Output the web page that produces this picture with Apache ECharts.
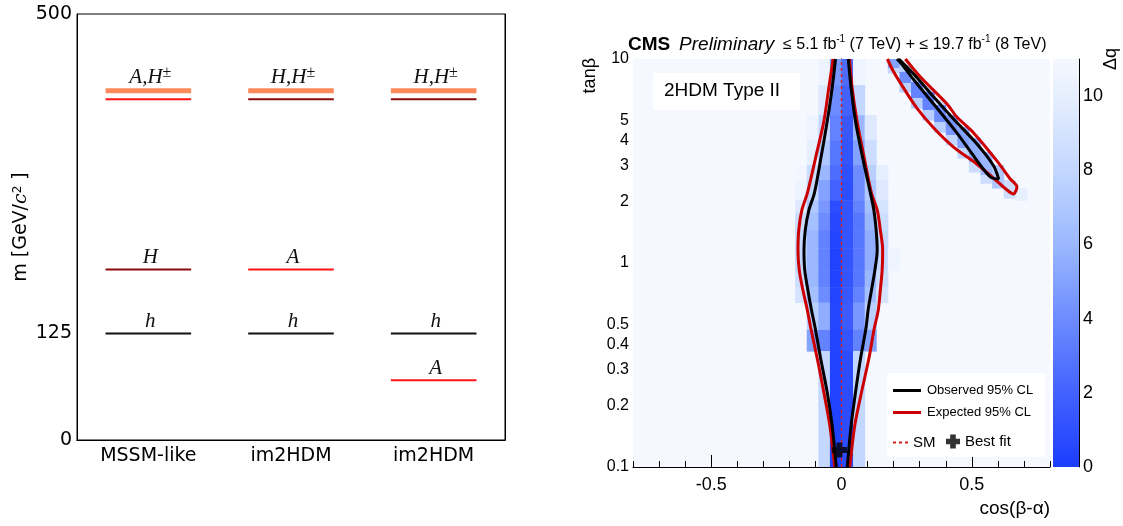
<!DOCTYPE html>
<html>
<head>
<meta charset="utf-8">
<script src="https://cdn.jsdelivr.net/npm/echarts@6/dist/echarts.min.js"></script>
<style>
  html, body { margin: 0; padding: 0; background: #fff; }
  #chart { width: 1123px; height: 526px; }
</style>
</head>
<body>
<div id="chart"></div>
<script>
// ---- left panel: mass spectra ----
var massCategories = ['MSSM-like', 'im2HDM', 'im2HDM'];
var massTicks = [0, 125, 500];
var levelColumn   = [0, 0, 0, 0, 1, 1, 1, 1, 2, 2, 2, 2];
var levelMass     = [410, 400, 200, 125, 410, 400, 200, 125, 410, 400, 125, 70];
var levelParticle = ['Hpm', 'A', 'H', 'h', 'Hpm', 'H', 'A', 'h', 'Hpm', 'H', 'h', 'A'];
var levelLabel    = ['A,H±', '', 'H', 'h', 'H,H±', '', 'A', 'h', 'H,H±', '', 'h', 'A'];

// ---- right panel: 2HDM type II scan ----
var cosTickLabels = [-0.5, 0, 0.5];
var cosMinorTicks = [-0.8, -0.7, -0.6, -0.5, -0.4, -0.3, -0.2, -0.1, 0, 0.1, 0.2, 0.3, 0.4, 0.5, 0.6, 0.7, 0.8];
var tanTickLabels = [0.1, 0.2, 0.3, 0.4, 0.5, 1, 2, 3, 4, 5, 10];
var tanMinorTicks = [0.2, 0.3, 0.4, 0.5, 0.6, 0.7, 0.8, 0.9, 2, 3, 4, 5, 6, 7, 8, 9];
var tanMajorTicks = [0.1, 1, 10];
var zTicks = [0, 2, 4, 6, 8, 10];

// scan bins in cos(beta-alpha)
var scanBinEdgesX = [-0.8, -0.7556, -0.7111, -0.6667, -0.6222, -0.5778, -0.5333, -0.4889, -0.4444,
  -0.4, -0.3556, -0.3111, -0.2667, -0.2222, -0.1778, -0.1333, -0.0889, -0.0444, 0,
  0.0444, 0.0889, 0.1333, 0.1778, 0.2222, 0.2667, 0.3111, 0.3556, 0.4, 0.4444,
  0.4889, 0.5333, 0.5778, 0.6222, 0.6667, 0.7111, 0.7556, 0.8];

// central region: rows of tan(beta) and delta q per bin (bins 14..22), 11 = off scale
var coreFirstBin = 14;
var coreRowEdges = [10, 7.45, 5.31, 4.0, 3.02, 2.55, 2.03, 1.76, 1.45, 1.18, 0.92, 0.76, 0.64, 0.47, 0.37, 0.1];
var coreValues = [
  [11, 11, 10.5, 4.5, 2.5, 10.5, 11, 11, 11],
  [11, 11, 9.5, 4, 2, 8, 11, 11, 11],
  [11, 10.5, 8, 3.5, 1.5, 6, 9.5, 11, 11],
  [11, 10, 7, 3, 1.2, 5, 8.5, 11, 11],
  [10.8, 8.5, 6, 2.5, 1, 4, 7.5, 10, 11],
  [10.5, 8, 5, 2, 0.9, 4, 7, 9.5, 11],
  [9.5, 7, 4.5, 0.8, 1.2, 3.5, 6.5, 9, 11],
  [8.5, 6.5, 4, 0.6, 1.2, 3, 6, 8.5, 11],
  [8, 6, 3.5, 0.4, 1.2, 3, 5.5, 8, 11],
  [8, 6, 3.5, 0.3, 1.2, 3, 5.5, 8, 10.5],
  [8.5, 6, 3.5, 0.3, 1.2, 3, 6, 8.5, 11],
  [9, 6.5, 4, 0.4, 1.4, 3.5, 6.5, 9, 11],
  [11, 7.5, 5.5, 0.5, 1.6, 4.5, 7.5, 11, 11],
  [11, 5, 3.5, 0.4, 1.2, 3.5, 5, 11, 11],
  [11, 11, 8, 0.3, 0.8, 8, 11, 11, 11]
];
// upper-right arm: [bin, tanLow, tanHigh, delta q]
var armCells = [
  [22, 9.03, 10, 5], [22, 8.54, 9.03, 8],
  [23, 8.64, 9.35, 7.5], [23, 7.63, 8.64, 4], [23, 6.89, 7.63, 7.5],
  [24, 7.71, 8.16, 8], [24, 6.44, 7.71, 3.5], [24, 5.75, 6.44, 7.5],
  [25, 6.89, 7.21, 8.5], [25, 5.62, 6.89, 3.5], [25, 5.02, 5.62, 7.5],
  [26, 5.95, 6.30, 8.5], [26, 4.91, 5.95, 4], [26, 4.38, 4.91, 7.5],
  [27, 4.24, 5.31, 4.5], [27, 3.79, 4.24, 8],
  [28, 3.66, 4.64, 5], [28, 3.27, 3.66, 8],
  [29, 3.12, 4.10, 5.5], [29, 2.79, 3.12, 8.5],
  [30, 2.70, 3.50, 6], [30, 2.46, 2.70, 8.5],
  [31, 2.33, 3.02, 7],
  [32, 2.08, 2.55, 8.5],
  [33, 2.03, 2.33, 10]
];

// 95% CL contours [cos(beta-alpha), tan(beta)]
var obsCoreLeft = [[-0.023, 10], [-0.036, 7.18], [-0.055, 4.92], [-0.077, 3.38], [-0.104, 2.2], [-0.125, 1.82],
  [-0.139, 1.45], [-0.144, 1.156], [-0.141, 0.922], [-0.129, 0.736], [-0.115, 0.587], [-0.101, 0.48],
  [-0.08, 0.34], [-0.055, 0.233], [-0.036, 0.16], [-0.02, 0.1]];
var obsCoreRight = [[0.026, 10], [0.037, 7.18], [0.054, 4.92], [0.079, 3.38], [0.111, 2.2], [0.124, 1.82],
  [0.133, 1.45], [0.137, 1.156], [0.128, 0.922], [0.115, 0.736], [0.102, 0.587], [0.094, 0.48],
  [0.073, 0.34], [0.054, 0.233], [0.037, 0.16], [0.022, 0.1]];
var expCoreLeft = [[-0.032, 10], [-0.049, 7.18], [-0.068, 4.92], [-0.097, 3.38], [-0.131, 2.2], [-0.152, 1.82],
  [-0.164, 1.45], [-0.167, 1.156], [-0.162, 0.922], [-0.148, 0.736], [-0.131, 0.587], [-0.118, 0.48],
  [-0.093, 0.34], [-0.068, 0.233], [-0.045, 0.16], [-0.026, 0.1]];
var expCoreRight = [[0.031, 10], [0.041, 7.18], [0.06, 4.92], [0.085, 3.38], [0.115, 2.2], [0.137, 1.82],
  [0.149, 1.45], [0.158, 1.156], [0.156, 0.922], [0.149, 0.736], [0.141, 0.587], [0.126, 0.48],
  [0.105, 0.34], [0.077, 0.233], [0.051, 0.16], [0.032, 0.1]];
var obsArm = [[0.22, 10], [0.277, 8.44], [0.354, 6.51], [0.43, 5.08], [0.52, 3.83], [0.584, 2.99], [0.603, 2.58],
  [0.571, 2.64], [0.513, 3.27], [0.437, 4.44], [0.36, 5.88], [0.284, 7.71], [0.23, 9.46], [0.213, 10]];
var expArm = [[0.176, 10], [0.2, 8.66], [0.239, 7.18], [0.29, 5.73], [0.354, 4.59], [0.43, 3.70], [0.52, 3.05],
  [0.584, 2.60], [0.635, 2.28], [0.66, 2.18], [0.673, 2.36], [0.648, 2.58], [0.597, 3.16], [0.507, 4.34],
  [0.443, 5.19], [0.405, 6.02], [0.303, 8.16], [0.245, 10]];
var smLine = [[0, 0.1], [0, 10]];
var bestFit = [[-0.008, 0.121]];

var palette = ['#1b3dff', '#2f50ff', '#4362ff', '#5877ff', '#6d8cff', '#84a2ff',
  '#9bb8ff', '#afc8ff', '#c3d7ff', '#d5e3ff', '#e6effe', '#f6f8ff'];

// build tables for the library
var levels = levelColumn.map(function (c, i) { return [c, levelMass[i]]; });
var heatCells = [];
coreValues.forEach(function (row, r) {
  row.forEach(function (v, j) {
    if (v >= 11) return;
    var bin = coreFirstBin + j;
    heatCells.push([scanBinEdgesX[bin], scanBinEdgesX[bin + 1], coreRowEdges[r + 1], coreRowEdges[r], v]);
  });
});
armCells.forEach(function (c) {
  heatCells.push([scanBinEdgesX[c[0]], scanBinEdgesX[c[0] + 1], c[1], c[2], c[3]]);
});

var particleStyle = {
  Hpm: { color: '#ff8a5c', width: 5 },
  A: { color: '#ff1414', width: 2 },
  H: { color: '#8b0a0a', width: 2 },
  h: { color: '#111111', width: 2 }
};

function mathText(s) {
  if (s.indexOf('±') >= 0) return '{m|' + s.replace('±', '') + '}{s|±}';
  return '{m|' + s + '}';
}

function renderLevel(params, api) {
  var p = api.coord([api.value(0), api.value(1)]);
  var half = api.size([1, 0])[0] * 0.3;
  var st = particleStyle[levelParticle[params.dataIndex]];
  var children = [{
    type: 'line',
    shape: { x1: p[0] - half, y1: p[1], x2: p[0] + half, y2: p[1] },
    style: { stroke: st.color, lineWidth: st.width }
  }];
  var lab = levelLabel[params.dataIndex];
  if (lab) {
    children.push({
      type: 'text',
      x: p[0] + 2,
      y: p[1] - st.width / 2 + 1,
      style: {
        text: mathText(lab),
        align: 'center',
        verticalAlign: 'bottom',
        fill: '#111',
        rich: {
          m: { fontFamily: 'Liberation Serif', fontStyle: 'italic', fontSize: 21, fill: '#111', lineHeight: 24 },
          s: { fontFamily: 'Liberation Serif', fontSize: 16, fill: '#111', verticalAlign: 'top', lineHeight: 24 }
        }
      }
    });
  }
  return { type: 'group', children: children };
}

function renderCell(params, api) {
  var p0 = api.coord([api.value(0), api.value(3)]);
  var p1 = api.coord([api.value(1), api.value(2)]);
  return {
    type: 'rect',
    shape: { x: p0[0], y: p0[1], width: p1[0] - p0[0] + 0.5, height: p1[1] - p0[1] + 0.5 },
    style: { fill: api.visual('color') }
  };
}

var sans = 'Liberation Sans';
var axisBlack = { show: true, lineStyle: { color: '#000', width: 1 } };

function contour(name, data, color) {
  return {
    name: name, type: 'line', xAxisIndex: 2, yAxisIndex: 2, data: data,
    symbol: 'none', smooth: 0.3, z: 4,
    lineStyle: { color: color, width: 3 }, itemStyle: { color: color }
  };
}

var chart = echarts.init(document.getElementById('chart'));
var option = {
  animation: false,
  backgroundColor: '#ffffff',
  textStyle: { fontFamily: sans },
  grid: [
    { left: 77, top: 14, width: 428, height: 426, show: true, borderColor: '#000', borderWidth: 1 },
    { left: 633, top: 59, width: 417, height: 408, show: true, backgroundColor: palette[11], borderWidth: 0 },
    { left: 1053, top: 59, width: 26, height: 408 }
  ],
  xAxis: [
    {
      type: 'category', gridIndex: 0, data: massCategories, position: 'bottom',
      axisLine: axisBlack,
      axisTick: { inside: true, alignWithLabel: true, length: 5, lineStyle: { color: '#000' } },
      axisLabel: { fontFamily: 'DejaVu Sans', fontSize: 19, color: '#000', margin: 7 }
    },
    {
      type: 'category', gridIndex: 0, data: massCategories, position: 'top',
      axisLine: axisBlack,
      axisTick: { inside: true, alignWithLabel: true, length: 5, lineStyle: { color: '#000' } },
      axisLabel: { show: false }
    },
    {
      type: 'value', gridIndex: 1, min: -0.8, max: 0.8, position: 'bottom',
      axisLine: axisBlack, splitLine: { show: false },
      axisTick: { inside: true, length: 6, customValues: cosMinorTicks, lineStyle: { color: '#000' } },
      axisLabel: { customValues: cosTickLabels, fontSize: 18, color: '#000', margin: 9 }
    },
    {
      type: 'value', gridIndex: 1, min: -0.8, max: 0.8, position: 'bottom',
      axisLine: { show: false }, splitLine: { show: false },
      axisTick: { inside: true, length: 12, customValues: cosTickLabels, lineStyle: { color: '#000' } },
      axisLabel: { show: false }
    },
    { type: 'category', gridIndex: 2, data: [''], show: false }
  ],
  yAxis: [
    {
      type: 'value', gridIndex: 0, min: 0, max: 500, position: 'left',
      axisLine: axisBlack, splitLine: { show: false },
      axisTick: { inside: true, length: 5, customValues: massTicks, lineStyle: { color: '#000' } },
      axisLabel: { customValues: massTicks, fontFamily: 'DejaVu Sans', fontSize: 19, color: '#000', margin: 5 },
      name: 'm [GeV/{c|c}{s|2} ]', nameLocation: 'middle', nameGap: 46,
      nameTextStyle: {
        fontFamily: 'DejaVu Sans', fontSize: 19, color: '#000',
        rich: {
          c: { fontFamily: 'DejaVu Serif', fontStyle: 'italic', fontSize: 19, color: '#000' },
          s: { fontFamily: 'DejaVu Sans', fontSize: 12, color: '#000', verticalAlign: 'top' }
        }
      }
    },
    {
      type: 'value', gridIndex: 0, min: 0, max: 500, position: 'right',
      axisLine: axisBlack, splitLine: { show: false },
      axisTick: { inside: true, length: 5, customValues: massTicks, lineStyle: { color: '#000' } },
      axisLabel: { show: false }
    },
    {
      type: 'log', logBase: 10, gridIndex: 1, min: 0.1, max: 10, position: 'left',
      axisLine: axisBlack, splitLine: { show: false },
      axisTick: { inside: true, length: 7, customValues: tanMinorTicks, lineStyle: { color: '#000' } },
      axisLabel: { customValues: tanTickLabels, fontSize: 16, color: '#000', margin: 4,
        formatter: function (v) { return String(v); } }
    },
    {
      type: 'log', logBase: 10, gridIndex: 1, min: 0.1, max: 10, position: 'left',
      axisLine: { show: false }, splitLine: { show: false },
      axisTick: { inside: true, length: 13, customValues: tanMajorTicks, lineStyle: { color: '#000' } },
      axisLabel: { show: false }
    },
    {
      type: 'value', gridIndex: 2, min: 0, max: 11, position: 'right',
      axisLine: axisBlack, splitLine: { show: false },
      axisTick: { inside: true, length: 11, customValues: zTicks, lineStyle: { color: '#000' } },
      axisLabel: { customValues: zTicks, fontSize: 18, color: '#000', margin: 4 }
    }
  ],
  visualMap: {
    type: 'continuous', show: false, min: 0, max: 11, dimension: 4, seriesIndex: 1,
    inRange: { color: palette }
  },
  legend: [
    {
      data: ['Observed 95% CL', 'Expected 95% CL'], orient: 'vertical', left: 888, top: 379,
      icon: 'rect', itemWidth: 28, itemHeight: 3, itemGap: 9,
      textStyle: { fontSize: 13, color: '#000', fontFamily: sans, padding: [0, 0, 0, 1] }
    },
    {
      data: ['SM'], left: 888, top: 430,
      icon: 'path://M0,0H3V2H0Z M6,0H9V2H6Z M12,0H15V2H12Z', itemWidth: 15, itemHeight: 2,
      textStyle: { fontSize: 15, color: '#000', fontFamily: sans }
    },
    {
      data: ['Best fit'], left: 941, top: 429, itemWidth: 14, itemHeight: 14, itemGap: 2,
      textStyle: { fontSize: 15, color: '#000', fontFamily: sans }
    }
  ],
  graphic: [
    { type: 'rect', z: 1, shape: { x: 887, y: 373, width: 158, height: 84 }, style: { fill: '#ffffff' } },
    { type: 'rect', z: 1, shape: { x: 653, y: 73, width: 147, height: 37 }, style: { fill: '#ffffff' } },
    {
      type: 'text', x: 664, y: 91, z: 5,
      style: { text: '2HDM Type II', font: '19px "Liberation Sans"', fill: '#000', verticalAlign: 'middle' }
    },
    {
      type: 'text', x: 628, y: 45, z: 5,
      style: {
        text: '{b|CMS}  {i|Preliminary}  {n|≤ 5.1 fb}{s|-1}{n| (7 TeV) + ≤ 19.7 fb}{s|-1}{n| (8 TeV)}',
        verticalAlign: 'middle', fill: '#000', font: '16px "Liberation Sans"',
        rich: {
          b: { fontFamily: sans, fontWeight: 'bold', fontSize: 19, fill: '#000', lineHeight: 22 },
          i: { fontFamily: sans, fontStyle: 'italic', fontSize: 19, fill: '#000', lineHeight: 22 },
          n: { fontFamily: sans, fontSize: 16, fill: '#000', lineHeight: 22 },
          s: { fontFamily: sans, fontSize: 10, fill: '#000', verticalAlign: 'top', lineHeight: 22 }
        }
      }
    },
    {
      type: 'text', x: 590, y: 58, rotation: Math.PI / 2, z: 5,
      style: { text: 'tanβ', font: '18px "Liberation Sans"', fill: '#000', align: 'right', verticalAlign: 'middle' }
    },
    {
      type: 'text', x: 1050, y: 509, z: 5,
      style: { text: 'cos(β-α)', font: '19px "Liberation Sans"', fill: '#000', align: 'right', verticalAlign: 'middle' }
    },
    {
      type: 'text', x: 1111, y: 48, rotation: Math.PI / 2, z: 5,
      style: { text: 'Δq', font: '18px "Liberation Sans"', fill: '#000', align: 'right', verticalAlign: 'middle' }
    }
  ],
  series: [
    {
      name: 'levels', type: 'custom', xAxisIndex: 0, yAxisIndex: 0, data: levels,
      encode: { x: 0, y: 1 }, renderItem: renderLevel, silent: true
    },
    {
      name: 'scan', type: 'custom', xAxisIndex: 2, yAxisIndex: 2, data: heatCells,
      encode: { x: [0, 1], y: [2, 3] }, renderItem: renderCell, silent: true, z: 2, clip: true
    },
    contour('Expected 95% CL', expCoreLeft, '#cc0000'),
    contour('Expected 95% CL', expCoreRight, '#cc0000'),
    contour('Expected 95% CL', expArm, '#cc0000'),
    contour('Observed 95% CL', obsCoreLeft, '#000000'),
    contour('Observed 95% CL', obsCoreRight, '#000000'),
    contour('Observed 95% CL', obsArm, '#000000'),
    {
      name: 'SM', type: 'line', xAxisIndex: 2, yAxisIndex: 2, data: smLine, symbol: 'none', z: 5,
      lineStyle: { color: '#d42020', width: 1.5, type: [3, 3] }, itemStyle: { color: '#d42020' }
    },
    {
      name: 'Best fit', type: 'scatter', xAxisIndex: 2, yAxisIndex: 2, data: bestFit, z: 6,
      symbol: 'path://M3,0 H7 V3 H10 V7 H7 V10 H3 V7 H0 V3 H3 Z', symbolSize: 15,
      itemStyle: { color: '#000' }
    },
    {
      name: 'colour scale', type: 'bar', xAxisIndex: 4, yAxisIndex: 4, data: [11],
      barWidth: '100%', silent: true,
      itemStyle: {
        color: new echarts.graphic.LinearGradient(0, 1, 0, 0, palette.map(function (c, i) {
          return { offset: i / (palette.length - 1), color: c };
        }))
      }
    }
  ]
};
chart.setOption(option);
</script>
</body>
</html>
